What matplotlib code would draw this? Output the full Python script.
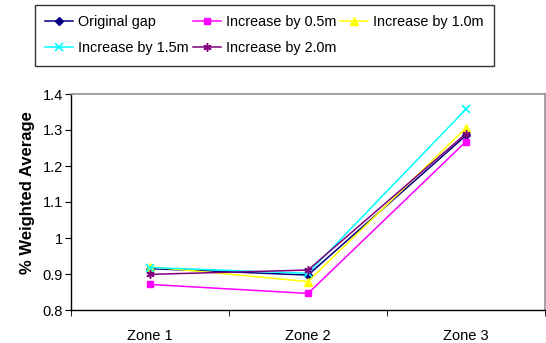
import matplotlib
matplotlib.use("Agg")
import matplotlib.pyplot as plt
from matplotlib.ticker import FixedLocator, NullFormatter

plt.rcParams['font.family'] = ['Liberation Sans', 'DejaVu Sans']

zones = ["Zone 1", "Zone 2", "Zone 3"]
original_gap = [0.915, 0.897, 1.285]
increase_05 = [0.871, 0.846, 1.268]
increase_10 = [0.920, 0.879, 1.306]
increase_15 = [0.918, 0.902, 1.358]
increase_20 = [0.899, 0.911, 1.290]
series_labels = ["Original gap", "Increase by 0.5m", "Increase by 1.0m",
                 "Increase by 1.5m", "Increase by 2.0m"]
y_ticks = [0.8, 0.9, 1.0, 1.1, 1.2, 1.3, 1.4]
y_tick_labels = ["0.8", "0.9", "1", "1.1", "1.2", "1.3", "1.4"]

fig = plt.figure(figsize=(5.46, 3.43), dpi=100)
ax = fig.add_axes([71/546, (343-310)/343, (545-71)/546, (310-94)/343])

x = list(range(len(zones)))
styles = [
    dict(color="#000080", marker="D", ms=4.5, mew=1),
    dict(color="#FF00FF", marker="s", ms=5, mew=1),
    dict(color="#FFFF00", marker="^", ms=6, mew=1),
    dict(color="#00FFFF", marker="x", ms=6, mew=1.2),
    dict(color="#800080", marker=(6, 2, 0), ms=6, mew=1.1),
]
data = [original_gap, increase_05, increase_10, increase_15, increase_20]
handles = []
for vals, lab, st in zip(data, series_labels, styles):
    h, = ax.plot(x, vals, lw=1.1, label=lab, **st)
    handles.append(h)

ax.set_xlim(-0.5, 2.5)
ax.set_ylim(0.8, 1.4)
ax.set_yticks(y_ticks)
ax.set_yticklabels(y_tick_labels, fontsize=10.5)
ax.set_xticks(x)
ax.set_xticklabels(zones, fontsize=10.5)
ax.tick_params(axis='x', which='major', length=0, pad=14)
ax.xaxis.set_minor_locator(FixedLocator([-0.5, 0.5, 1.5, 2.5]))
ax.xaxis.set_minor_formatter(NullFormatter())
ax.tick_params(axis='x', which='minor', length=4, direction='out', color='black')
ax.tick_params(axis='y', length=4, direction='out', pad=2)
ax.set_ylabel("% Weighted Average", fontsize=12, fontweight='bold')
ax.yaxis.set_label_coords((35 - 71) / 474, (310 - 193) / 216)

for s in ['left', 'bottom']:
    ax.spines[s].set_color('black')
    ax.spines[s].set_linewidth(1)
for s in ['top', 'right']:
    ax.spines[s].set_color('#909090')
    ax.spines[s].set_linewidth(1.2)

# legend ordering: row-wise 3 columns
order = [0, 3, 1, 4, 2]
leg = fig.legend([handles[i] for i in order], [series_labels[i] for i in order],
                 ncol=3, loc='upper left', bbox_to_anchor=(35/546, 1 - 5/343),
                 fontsize=10.4, frameon=True, fancybox=False, shadow=False,
                 handlelength=1.95, handletextpad=0.35, columnspacing=0.25,
                 labelspacing=0.85, borderpad=0.7, borderaxespad=0)
leg.get_frame().set_edgecolor('black')
leg.get_frame().set_linewidth(1)

fig.savefig("out.png", dpi=100)
